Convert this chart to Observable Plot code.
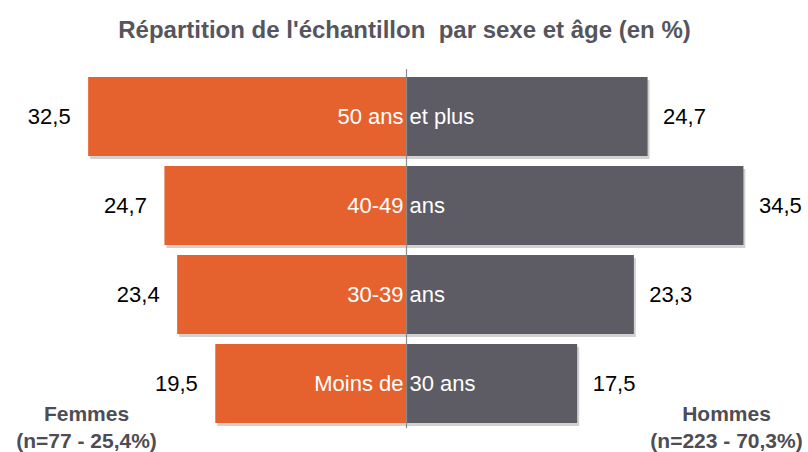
<!DOCTYPE html>
<html>
<head>
<meta charset="utf-8">
<script src="https://cdn.jsdelivr.net/npm/d3@7"></script>
<script src="https://cdn.jsdelivr.net/npm/@observablehq/plot@0.6"></script>
<style>
  html, body { margin: 0; padding: 0; background: #fff; }
  #chart svg { display: block; }
</style>
</head>
<body>
<div id="chart"></div>
<script>
const title = "Répartition de l'échantillon  par sexe et âge (en %)";
const categories = ["50 ans et plus", "40-49 ans", "30-39 ans", "Moins de 30 ans"];
const labelLeft = ["50 ans", "40-49", "30-39", "Moins de"];
const labelRight = ["et plus", "ans", "ans", "30 ans"];
const femmes = [32.5, 24.7, 23.4, 19.5];
const hommes = [24.7, 34.5, 23.3, 17.5];
const groupLabels = [
  {side: "Femmes", line1: "Femmes", line2: "(n=77 - 25,4%)"},
  {side: "Hommes", line1: "Hommes", line2: "(n=223 - 70,3%)"}
];

const ORANGE = "#E5622E";
const GRAY = "#5D5B63";
const fmt = v => v.toFixed(1).replace(".", ",");

const rows = categories.map((c, i) => ({
  cat: c, f: femmes[i], h: hommes[i], left: labelLeft[i], right: labelRight[i]
}));

const pxPerUnit = 9.78;
const W = 808, H = 452, cx = 406;

const chart = Plot.plot({
  width: W,
  height: H,
  marginLeft: 0, marginRight: 0, marginTop: 0, marginBottom: 0,
  x: {domain: [-cx / pxPerUnit, (W - cx) / pxPerUnit], axis: null},
  y: {domain: categories, range: [75, 425], paddingInner: 0.111, paddingOuter: 0, axis: null},
  style: {fontFamily: "Liberation Sans, Arial, sans-serif", background: "#fff"},
  marks: [
    // shadows
    Plot.barX(rows, {y: "cat", x1: d => -d.f, x2: 0, fill: "#000", fillOpacity: 0.18, dx: 2, dy: 3}),
    Plot.barX(rows, {y: "cat", x1: 0, x2: "h", fill: "#000", fillOpacity: 0.18, dx: 2, dy: 3}),
    // bars
    Plot.barX(rows, {y: "cat", x1: d => -d.f, x2: 0, fill: ORANGE}),
    Plot.barX(rows, {y: "cat", x1: 0, x2: "h", fill: GRAY}),
    // center line
    Plot.ruleX([0], {stroke: "#8a8a8a", strokeWidth: 1.2, insetTop: 69, insetBottom: 24}),
    // category labels
    Plot.text(rows, {y: "cat", x: 0, text: "left", textAnchor: "end", dx: -3, fill: "#fff", fontSize: 22}),
    Plot.text(rows, {y: "cat", x: 0, text: "right", textAnchor: "start", dx: 3, fill: "#fff", fontSize: 22}),
    // value labels
    Plot.text(rows, {y: "cat", x: d => -d.f, text: d => fmt(d.f), textAnchor: "end", dx: -18, fill: "#000", fontSize: 22}),
    Plot.text(rows, {y: "cat", x: "h", text: d => fmt(d.h), textAnchor: "start", dx: 15, fill: "#000", fontSize: 22}),
    // title
    Plot.text([title], {frameAnchor: "top", lineAnchor: "middle", dy: 30, fontSize: 24, fontWeight: "bold", fill: "#55555e",
      text: d => d}),
    // group labels
    Plot.text([groupLabels[0]], {frameAnchor: "bottom-left", lineAnchor: "middle", dx: 86, dy: -38, textAnchor: "middle", text: "line1", fontSize: 21, fontWeight: "bold", fill: "#4e4d55"}),
    Plot.text([groupLabels[0]], {frameAnchor: "bottom-left", lineAnchor: "middle", dx: 86, dy: -11, textAnchor: "middle", text: "line2", fontSize: 21, fontWeight: "bold", fill: "#4e4d55"}),
    Plot.text([groupLabels[1]], {frameAnchor: "bottom-right", lineAnchor: "middle", dx: -82, dy: -38, textAnchor: "middle", text: "line1", fontSize: 21, fontWeight: "bold", fill: "#4e4d55"}),
    Plot.text([groupLabels[1]], {frameAnchor: "bottom-right", lineAnchor: "middle", dx: -82, dy: -11, textAnchor: "middle", text: "line2", fontSize: 21, fontWeight: "bold", fill: "#4e4d55"})
  ]
});
document.getElementById("chart").appendChild(chart);
</script>
</body>
</html>
